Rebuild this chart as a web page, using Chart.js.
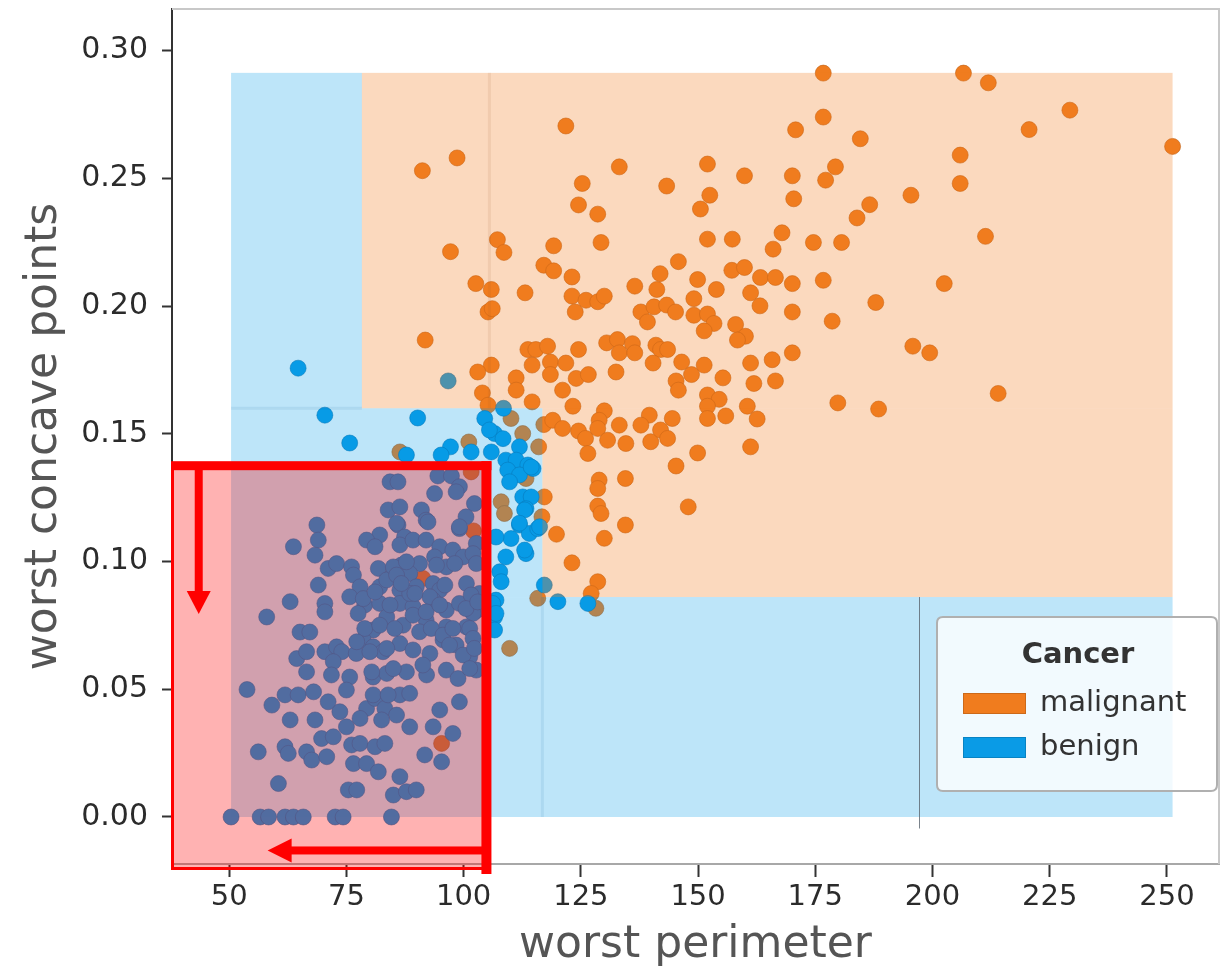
<!DOCTYPE html>
<html>
<head>
<meta charset="utf-8">
<script src="https://cdn.jsdelivr.net/npm/chart.js@4.4.1/dist/chart.umd.min.js"></script>
<style>
  html, body { margin: 0; padding: 0; background: #fff; }
  #wrap { width: 1228px; height: 971px; }
</style>
</head>
<body>
<div id="wrap"><canvas id="c" width="1228" height="971"></canvas></div>
<script>
// worst perimeter / worst concave points
const malignant = [
  [121.8,0.2705],[91.2,0.253],[98.6,0.258],[133.2,0.2545],[152.0,0.2556],[125.3,0.248],[143.3,0.247],[159.9,0.251],[170.1,0.251],[170.8,0.269],
  [152.5,0.2434],[150.5,0.238],[124.5,0.2396],[128.6,0.236],[170.4,0.242],[97.2,0.2213],[107.2,0.226],[108.6,0.221],[119.2,0.2236],[129.3,0.2249],
  [152.0,0.2262],[157.3,0.2262],[167.9,0.2287],[166.0,0.2223],[145.8,0.2174],[117.1,0.216],[119.2,0.2138],[123.1,0.2114],[141.9,0.2127],[149.9,0.2104],
  [157.2,0.214],[159.9,0.2151],[163.3,0.2112],[166.5,0.2112],[170.1,0.2088],[102.6,0.2088],[105.9,0.2065],[113.1,0.2052],[123.1,0.2039],[126.1,0.2023],
  [128.6,0.2017],[130.0,0.2039],[123.8,0.1977],[136.5,0.2078],[141.2,0.2065],[153.9,0.2065],[161.2,0.2052],[163.2,0.2001],[149.1,0.2029],[105.2,0.1977],
  [106.1,0.199],[137.8,0.1977],[139.2,0.1938],[140.6,0.1997],[143.3,0.2004],[145.2,0.1977],[149.1,0.1964],[152.0,0.1969],[153.4,0.1932],[151.3,0.1903],
  [158.0,0.1928],[160.1,0.1882],[158.4,0.1867],[170.1,0.1977],[91.8,0.1867],[113.7,0.183],[115.4,0.183],[117.9,0.1843],[124.5,0.183],[130.5,0.1856],
  [132.8,0.1869],[133.2,0.1817],[136.0,0.1853],[136.5,0.1817],[141.0,0.1847],[142.0,0.183],[143.5,0.183],[140.4,0.1777],[146.5,0.1781],[151.3,0.1769],
  [161.2,0.1777],[165.8,0.179],[170.1,0.1817],[114.6,0.1769],[118.5,0.1781],[121.8,0.1777],[105.9,0.1769],[103.0,0.1742],[118.5,0.1732],[111.2,0.1719],
  [124.0,0.1717],[126.6,0.1732],[132.5,0.1742],[148.6,0.1732],[155.3,0.1719],[161.9,0.1697],[166.5,0.1707],[145.3,0.1707],[145.8,0.1671],[111.2,0.1671],
  [121.1,0.1671],[104.0,0.166],[152.0,0.1652],[154.5,0.1635],[114.6,0.1625],[123.3,0.1608],[152.0,0.1608],[160.5,0.1608],[105.2,0.1612],[130.0,0.159],
  [139.6,0.1573],[144.5,0.156],[152.0,0.156],[155.9,0.157],[162.6,0.1558],[110.1,0.156],[117.1,0.1536],[119.0,0.1553],[121.1,0.1521],[124.5,0.1511],
  [126.0,0.1482],[128.9,0.1553],[128.6,0.1521],[133.2,0.1534],[130.7,0.1475],[134.6,0.1462],[137.8,0.1534],[139.9,0.1469],[142.0,0.1515],[143.5,0.1482],
  [149.9,0.1425],[161.2,0.1449],[126.5,0.1423],
  [176.7,0.2912],[206.6,0.2912],[211.9,0.2874],[229.3,0.2767],[176.7,0.274],[220.6,0.2691],[184.6,0.2655],[251.2,0.2625],[205.9,0.2591],[205.9,0.248],
  [179.3,0.2545],[177.2,0.2493],[195.4,0.2434],[186.6,0.2397],[183.9,0.2345],[174.6,0.2249],[180.6,0.2249],[211.3,0.2273],[176.7,0.2101],[202.5,0.2088],
  [187.9,0.2014],[178.6,0.1941],[195.8,0.1843],[199.4,0.1817],[179.8,0.1621],[188.5,0.1597],[214.0,0.1658],
  [145.3,0.1374],[147.9,0.1214],[134.5,0.1325],[128.9,0.1319],[128.6,0.1286],[128.6,0.1217],[129.3,0.1188],[134.5,0.1143],[130.0,0.1091],[119.8,0.1107],
  [123.1,0.0995],[128.6,0.0921],[127.2,0.0875],[128.2,0.0817],[117.2,0.1253],
  [86.4,0.1429],[101.1,0.1468],[112.6,0.1501],[116.0,0.1449],[113.3,0.1325],[108.0,0.1234],[108.7,0.1188],[116.7,0.1175],[115.8,0.0856],[101.6,0.1351],
  [102.1,0.112],[91.3,0.0934],[95.3,0.0288],[109.8,0.066]
];
const benign = [
  [64.7,0.1757],[70.4,0.1573],[75.7,0.1464],[90.2,0.1562],[96.7,0.1707],[108.5,0.160],[104.5,0.156],[106.6,0.1501],[108.4,0.1481],[97.2,0.1449],
  [95.2,0.1417],[87.8,0.1417],[101.6,0.1429],[105.9,0.1429],[111.9,0.1449],[109.0,0.1397],[111.2,0.1397],[113.7,0.1378],[114.8,0.1364],[109.4,0.1358],
  [111.9,0.1339],[109.8,0.1312],[112.6,0.1253],[114.4,0.1253],[113.3,0.1207],[111.9,0.1143],[114.0,0.111],[115.8,0.1129],[110.1,0.109],[106.9,0.1096],
  [109.0,0.1018],[113.3,0.1031],[107.7,0.096],[108.0,0.0921],[117.2,0.0908],[120.1,0.0843],[126.5,0.0836],[106.9,0.0849],[105.5,0.1515],[114.4,0.137],
  [113.0,0.1202],[111.9,0.115],[116.2,0.1136],[113.0,0.1045],[106.2,0.0836],[106.6,0.0783],[106.6,0.0732],[102.7,0.0808],[106.9,0.0797],
  [84.3,0.1312],[86.0,0.1312],[94.5,0.1335],[97.4,0.1335],[99.1,0.1293],[93.8,0.1266],[98.4,0.1273],[102.3,0.1227],[83.9,0.1202],[86.4,0.1214],
  [91.0,0.1202],[92.0,0.1162],[100.5,0.1175],[68.7,0.1143],[86.0,0.1143],[99.1,0.1129],[82.1,0.1104],[87.4,0.1096],[69.0,0.1084],[79.3,0.1084],
  [63.7,0.1058],[68.3,0.1025],[81.1,0.1058],[86.4,0.1065],[89.2,0.1084],[92.0,0.1084],[94.9,0.1058],[97.7,0.1045],[102.7,0.1071],[93.8,0.1018],
  [99.9,0.1018],[102.0,0.1031],[71.1,0.0973],[72.9,0.0992],[76.1,0.0979],[81.8,0.0973],[86.7,0.0986],[90.6,0.0992],[96.3,0.0979],[98.1,0.0992],
  [102.7,0.0992],[76.5,0.0947],[84.6,0.094],[88.5,0.0953],[93.5,0.0914],[69.0,0.0908],[77.9,0.0901],[82.1,0.0901],[83.6,0.0928],[86.4,0.0888],
  [89.9,0.0901],[94.9,0.0888],[100.6,0.0914],[103.4,0.0875],[63.0,0.0843],[75.7,0.0862],[70.4,0.0836],[70.4,0.0803],[78.9,0.083],[82.1,0.0836],
  [86.4,0.0836],[89.2,0.0823],[93.5,0.0849],[96.3,0.081],[99.1,0.0836],[102.0,0.0797],[58.0,0.0783],[77.5,0.0797],[83.6,0.0783],[87.1,0.0751],
  [92.0,0.0771],[96.3,0.0744],[100.6,0.0744],[65.1,0.0724],[67.2,0.0724],[80.7,0.0732],
  [78.6,0.0693],[64.4,0.062],[66.5,0.0647],[70.4,0.0647],[72.9,0.0666],[74.0,0.0647],[72.2,0.0608],[77.1,0.064],[80.7,0.0666],[82.8,0.0647],
  [86.4,0.0679],[89.2,0.0654],[92.8,0.064],[95.6,0.0693],[98.4,0.0673],[101.3,0.0627],[102.7,0.0575],[66.5,0.0568],[71.8,0.0556],[75.7,0.0548],
  [80.7,0.0548],[83.6,0.0562],[87.8,0.0568],[92.1,0.0556],[96.3,0.0575],[98.8,0.0542],[53.8,0.0499],[61.9,0.0478],[64.7,0.0478],[68.0,0.049],
  [75.0,0.0497],[71.1,0.0451],[73.6,0.0412],[79.3,0.0425],[81.1,0.0464],[83.2,0.0425],[86.4,0.0478],[88.5,0.0484],[85.7,0.0399],[59.1,0.0438],
  [63.0,0.038],[68.3,0.038],[75.0,0.0353],[77.9,0.0386],[82.5,0.038],[88.5,0.0353],[94.9,0.0419],[99.1,0.0451],[93.5,0.0353],[97.7,0.0327],
  [69.7,0.0307],[72.2,0.0314],[76.1,0.0282],[77.9,0.0288],[81.1,0.0275],[83.2,0.0288],[56.2,0.0255],[61.9,0.0275],[62.6,0.0249],[66.5,0.0255],
  [67.6,0.0223],[70.8,0.0236],[76.5,0.0209],[79.3,0.0209],[81.8,0.0177],[91.7,0.0243],[95.3,0.0216],[86.4,0.0158],[60.5,0.0131],[75.4,0.0106],
  [77.2,0.0106],[85.0,0.0086],[87.8,0.0099],[89.9,0.0106],
  [50.4,0],[56.6,0],[58.4,0],[61.9,0],[63.7,0],[65.8,0],[72.6,0],[74.3,0],[84.6,0],
  [92.4,0.1155],[85.7,0.115],[99.1,0.1136],[85.0,0.0979],[88.5,0.0875],[92.8,0.0862],
  [87.8,0.0999],[85.7,0.0947],[94.2,0.0986],[78.6,0.0855],[81.1,0.0881],[86.7,0.0914],[89.6,0.0875],[96.0,0.0908],[101.6,0.0869],
  [84.3,0.083],[89.2,0.079],[92.0,0.0803],[94.9,0.083],[100.5,0.0816],[103.0,0.0842],[78.9,0.0738],[82.1,0.0751],[85.3,0.0738],[90.6,0.0725],
  [93.1,0.0738],[95.6,0.0712],[97.7,0.0738],[101.3,0.0738],[102.0,0.0699],[77.2,0.0686],[80.0,0.0647],[83.6,0.066],[97.0,0.0673],[99.9,0.0634],
  [102.3,0.066],[80.4,0.0568],[85.0,0.0581],[91.3,0.0595],[101.3,0.0581],[80.7,0.0478],[83.9,0.0478]
];

const xTicks = [50, 75, 100, 125, 150, 175, 200, 225, 250];
const yTicks = [0, 0.05, 0.10, 0.15, 0.20, 0.25, 0.30];

// decision tree leaves: [xFrom, xTo, yFrom, yTo, class]
const treeRegions = [
  [50.4, 78.3, 0.160, 0.2913, 'benign'],
  [78.3, 251.2, 0.160, 0.2913, 'malignant'],
  [50.4, 116.8, 0.0861, 0.160, 'benign'],
  [116.8, 251.2, 0.0861, 0.160, 'malignant'],
  [50.4, 251.2, 0, 0.0861, 'benign']
];
// faint seams between neighbouring leaves of the same class
const seams = [
  [105.5, 105.5, 0.160, 0.2913, 'malignant'],
  [50.4, 78.3, 0.160, 0.160, 'benign'],
  [116.8, 116.8, 0, 0.0861, 'benign']
];
const stray = [197.2, 197.2, 0.0861, -0.0045];

// highlight drawn over the plot
const redBox = {xFrom: 37.8, xTo: 105.5, yFrom: 0.1385, yTo: -0.0184};
const downArrow = {x: 43.5, yFrom: 0.1375, yTo: 0.0795};
const leftArrow = {y: -0.0131, xFrom: 105.5, xTo: 58.2};

const ORANGE = '#f07c1e';
const BLUE = '#0a9be6';
const FONT = "'DejaVu Sans', sans-serif";

const overlay = {
  id: 'overlay',
  beforeDraw(chart) {
    const ctx = chart.ctx;
    ctx.save();
    ctx.fillStyle = '#fff';
    ctx.fillRect(0, 0, chart.width, chart.height);
    ctx.restore();
  },
  afterDatasetsDraw(chart) {
    const ctx = chart.ctx, xs = chart.scales.x, ys = chart.scales.y, ca = chart.chartArea;
    const X = v => xs.getPixelForValue(v), Y = v => ys.getPixelForValue(v);
    ctx.save();
    // decision regions, laid over the points like the original
    treeRegions.forEach(([x0, x1, y0, y1, c]) => {
      ctx.fillStyle = c === 'malignant' ? 'rgba(240,124,30,0.29)' : 'rgba(0,153,230,0.26)';
      ctx.fillRect(X(x0), Y(y1), X(x1) - X(x0), Y(y0) - Y(y1));
    });
    seams.forEach(([x0, x1, y0, y1, c]) => {
      ctx.strokeStyle = c === 'malignant' ? 'rgba(160,90,40,0.10)' : 'rgba(0,90,150,0.09)';
      ctx.lineWidth = 3;
      ctx.beginPath(); ctx.moveTo(X(x0), Y(y0)); ctx.lineTo(X(x1), Y(y1)); ctx.stroke();
    });
    ctx.strokeStyle = 'rgba(90,100,110,0.8)';
    ctx.lineWidth = 1;
    ctx.beginPath(); ctx.moveTo(Math.round(X(stray[0])) + 0.5, Y(stray[2])); ctx.lineTo(Math.round(X(stray[1])) + 0.5, Y(stray[3])); ctx.stroke();

    // top / right spines
    ctx.strokeStyle = '#c8c8c8';
    ctx.lineWidth = 2;
    ctx.beginPath();
    ctx.moveTo(ca.left, ca.top); ctx.lineTo(ca.right, ca.top); ctx.lineTo(ca.right, ca.bottom);
    ctx.stroke();

    // red highlight box
    const bx0 = X(redBox.xFrom) - 1, bx1 = X(redBox.xTo), by0 = Y(redBox.yFrom), by1 = Y(redBox.yTo) + 4;
    ctx.fillStyle = 'rgba(255,0,0,0.30)';
    ctx.fillRect(bx0, by0, bx1 - bx0, by1 - by0);
    ctx.fillStyle = '#ff0000';
    ctx.fillRect(bx0, by0 - 2, bx1 - bx0 + 2, 9);      // top
    ctx.fillRect(bx1 - 8, by0 - 2, 10, by1 - by0 + 8);  // right
    ctx.fillRect(bx0, by0, 3, by1 - by0 + 2);           // left
    ctx.fillRect(bx0, by1 - 1, bx1 - bx0, 3);           // bottom

    // arrows
    const ax = X(downArrow.x), ay0 = Y(downArrow.yFrom), ay1 = Y(downArrow.yTo);
    ctx.fillRect(ax - 4, ay0, 8, ay1 - ay0 - 20);
    ctx.beginPath(); ctx.moveTo(ax - 12, ay1 - 23); ctx.lineTo(ax + 12, ay1 - 23); ctx.lineTo(ax, ay1); ctx.closePath(); ctx.fill();
    const hy = Y(leftArrow.y), hx0 = X(leftArrow.xFrom), hx1 = X(leftArrow.xTo);
    ctx.fillRect(hx1 + 20, hy - 4, hx0 - hx1 - 20, 8);
    ctx.beginPath(); ctx.moveTo(hx1 + 24, hy - 12); ctx.lineTo(hx1 + 24, hy + 12); ctx.lineTo(hx1, hy); ctx.closePath(); ctx.fill();

    // legend
    const lx = 937, ly = 617, lw = ca.right - 2 - lx, lh = 174, r = 6;
    ctx.beginPath();
    ctx.moveTo(lx + r, ly); ctx.lineTo(lx + lw - r, ly); ctx.quadraticCurveTo(lx + lw, ly, lx + lw, ly + r);
    ctx.lineTo(lx + lw, ly + lh - r); ctx.quadraticCurveTo(lx + lw, ly + lh, lx + lw - r, ly + lh);
    ctx.lineTo(lx + r, ly + lh); ctx.quadraticCurveTo(lx, ly + lh, lx, ly + lh - r);
    ctx.lineTo(lx, ly + r); ctx.quadraticCurveTo(lx, ly, lx + r, ly); ctx.closePath();
    ctx.fillStyle = 'rgba(255,255,255,0.8)';
    ctx.fill();
    ctx.strokeStyle = '#b0b0b0';
    ctx.lineWidth = 2;
    ctx.stroke();
    ctx.fillStyle = '#333';
    ctx.font = 'bold 29px ' + FONT;
    ctx.textAlign = 'center';
    ctx.textBaseline = 'middle';
    ctx.fillText('Cancer', 1078, 655);
    ctx.textAlign = 'left';
    ctx.font = '29px ' + FONT;
    [['malignant', ORANGE, 703], ['benign', BLUE, 747]].forEach(([t, col, yy]) => {
      ctx.fillStyle = col;
      ctx.fillRect(963, yy - 10, 63, 21);
      ctx.strokeStyle = 'rgba(0,0,0,0.15)';
      ctx.lineWidth = 1;
      ctx.strokeRect(963.5, yy - 9.5, 62, 20);
      ctx.fillStyle = '#333';
      ctx.fillText(t, 1040, yy);
    });
    ctx.restore();
  }
};

const titleFont = {family: FONT, size: 44, lineHeight: 1};

new Chart(document.getElementById('c'), {
  type: 'scatter',
  data: {
    datasets: [
      {label: 'benign', order: 0, data: benign.map(([x, y]) => ({x, y})),
       backgroundColor: BLUE, borderColor: 'rgba(10,110,170,0.55)', borderWidth: 1, pointRadius: 8},
      {label: 'malignant', order: 1, data: malignant.map(([x, y]) => ({x, y})),
       backgroundColor: ORANGE, borderColor: 'rgba(190,95,20,0.6)', borderWidth: 1, pointRadius: 8}
    ]
  },
  options: {
    responsive: false,
    animation: false,
    layout: {padding: {top: 8, right: 7, left: 0, bottom: 0}},
    plugins: {legend: {display: false}, tooltip: {enabled: false}},
    scales: {
      x: {
        type: 'linear', min: 37.8, max: 261.1,
        afterBuildTicks: s => { s.ticks = xTicks.map(v => ({value: v})); },
        afterFit: s => { s.height = 107; s.paddingLeft = 0; s.paddingRight = 0; },
        ticks: {font: {family: FONT, size: 29}, color: '#2b2b2b', padding: 3, maxRotation: 0, callback: v => String(v)},
        grid: {drawOnChartArea: false, drawTicks: true, tickLength: 13, tickColor: '#333', tickWidth: 2},
        border: {color: '#a8a8a8', width: 2},
        title: {display: true, text: 'worst perimeter', font: titleFont, color: '#555', padding: {top: 0, bottom: 3}}
      },
      y: {
        type: 'linear', min: -0.0184, max: 0.3163,
        afterBuildTicks: s => { s.ticks = yTicks.map(v => ({value: v})); },
        afterFit: s => { s.width = 172; s.paddingTop = 0; s.paddingBottom = 0; },
        ticks: {font: {family: FONT, size: 30}, color: '#2b2b2b', padding: 14, callback: v => v.toFixed(2)},
        grid: {drawOnChartArea: false, drawTicks: true, tickLength: 10, tickColor: '#333', tickWidth: 2},
        border: {color: '#333', width: 2},
        title: {display: true, text: 'worst concave points', font: titleFont, color: '#555', padding: {top: 23, bottom: 0}}
      }
    }
  },
  plugins: [overlay]
});
</script>
</body>
</html>
